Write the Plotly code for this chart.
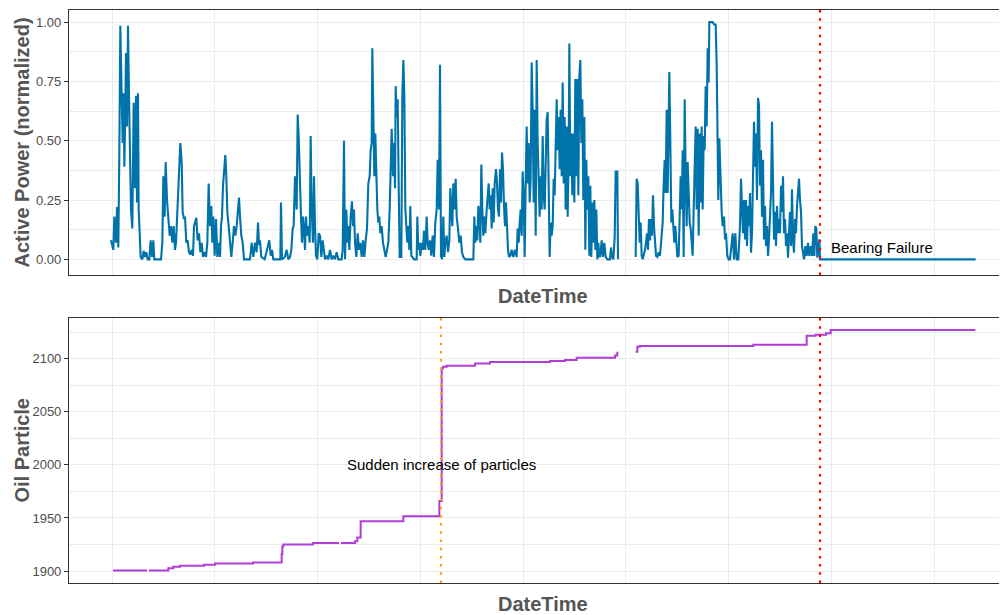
import math
import pandas as pd
import plotly.graph_objects as go

NAN = float("nan")

# ---------------- data (hours since start) ----------------
START = pd.Timestamp("2017-06-01 00:00")
FAILURE_H = 2127          # bearing failure
PARTICLE_JUMP_H = 990     # sudden increase of oil particles
END_H = 2594

power_part1 = [(0,.08),(4,.06),(7,.04),(10,.18),(13,.10),(15,.07),(18,.22),(22,.05),(25,.45),(28,.985),(32,.69),(35,.49),(38,.70),(40,.39),(43,.63),(45,.87),(48,.56),(51,.985),(54,.69),(57,.38),(60,.21),(64,.13),(68,.66),(72,.30),(75,.69),(78,.24),(81,.70),(83,.21),(86,.07),(89,.01),(94,0),(98,.035),(102,.01),(106,.03),(110,0),(115,0),(119,.08),(123,.01),(127,.08),(130,0),(140,0),(150,0),(154,.07),(157,.35),(161,.18),(164,.41),(168,.25),(172,.155),(176,.10),(180,.14),(184,.07),(188,.14),(192,.04),(195,.07),(200,.21),(204,.38),(208,.49),(212,.41),(215,.20),(219,.17),(222,.18),(226,.07),(230,.08),(234,.03),(238,.02),(242,.04),(246,.015),(249,.14),(252,.155),(256,.175),(260,.08),(264,.11),(268,.03),(272,.07),(276,.01),(280,.03)]

power_part2 = [(285,.01),(289,.07),(293,.32),(297,.14),(301,.225),(304,.07),(307,.18),(311,.015),(315,.17),(319,.01),(323,.07),(327,.01),(330,.14),(333,.18),(336,.31),(339,.39),(343,.44),(346,.35),(349,.20),(353,.14),(357,.07),(361,.01),(365,.07),(369,.14),(373,.10),(377,.14),(381,.21),(384,.26),(387,.18),(391,.10),(395,.07),(399,0),(409,0),(417,0),(422,.07),(427,.01),(432,.07),(437,.03),(441,.155),(444,.06),(447,.08),(451,.01),(461,0),(471,.05),(475,.08),(479,.015),(483,.04),(487,0),(497,0),(508,0),(510,.24),(513,0),(522,.01),(527,.04),(532,0),(537,.01),(541,.04),(545,.13),(548,.14),(552,.35),(557,.21),(560,.61),(563,.52)]

power_part3 = [(567,.28),(570,.18),(573,.07),(576,.18),(579,.13),(582,.04),(585,.18),(588,.10),(592,.14),(596,.07),(599,.52),(602,.21),(606,.07),(609,.35),(612,.14),(615,.015),(619,0),(623,.11),(627,.10),(631,.01),(635,.08),(639,.04),(642,0),(647,.015),(652,0),(657,.04),(662,0),(667,.015),(672,0),(677,.03),(682,0),(692,0),(695,.04),(699,.50),(702,0),(706,.21),(709,.07),(712,.14),(715,.04),(719,.18),(723,.245),(726,.14),(729,.21),(732,.07),(736,.01),(740,.11),(744,.04),(748,.07),(752,.01),(756,.08),(760,.01),(764,.08),(768,.13),(772,.32),(776,.35),(779,.46),(782,.49),(784,.89),(787,.46),(790,.35),(793,.53),(796,.28),(799,.21),(802,.155),(805,.18),(808,.11),(812,.14),(816,.07),(820,.03),(824,.01),(828,.04),(832,.07),(836,.21),(839,.46),(842,.55)]

power_part4 = [(846,.35),(849,.49),(852,.30),(854,.73),(857,.60),(860,.675),(863,.32),(866,.01),(871,.01),(874,.69),(877,.84),(880,.69),(883,.21),(886,.14),(889,.07),(892,.14),(895,.04),(898,.225),(901,.015),(904,.01),(909,0),(917,0),(919,.18),(922,.04),(925,.07),(928,.015),(932,.07),(936,.04),(939,.12),(943,.04),(947,.18),(950,.07),(953,.04),(957,.08),(961,.015),(965,.10),(969,.01),(973,.155),(977,.21),(980,.42),(984,.21),(987,.82),(990,.015),(993,0),(997,.18),(1000,.01),(1003,.07),(1007,.10),(1011,.03),(1015,.08),(1018,.30),(1021,.21),(1024,.14),(1027,.32),(1031,.21),(1034,.34),(1037,.18),(1041,.13),(1045,.07),(1049,.10),(1053,.03),(1057,.01),(1063,0),(1073,0),(1087,0),(1090,.18),(1093,.07),(1096,.14),(1099,.08),(1102,.225),(1105,.18),(1108,.07),(1111,.40),(1114,.21),(1117,.10),(1120,.18),(1123,.11),(1127,.21),(1130,.27),(1133,.32),(1136,.21),(1139,.27),(1142,.13),(1145,.30),(1148,.155),(1151,.32)]

power_part5 = [(1155,.38),(1158,.32),(1161,.21),(1164,.18),(1167,.38),(1170,.24),(1173,.45),(1176,.38),(1179,.225),(1182,.14),(1185,.24),(1188,.08),(1191,.04),(1194,.01),(1198,.015),(1202,.04),(1207,.01),(1212,.04),(1217,.01),(1220,.13),(1223,.07),(1226,.155),(1229,.21),(1232,.10),(1235,.37),(1238,.27),(1241,.01),(1244,.32),(1247,.56),(1250,.32),(1253,.49),(1256,.24),(1259,.34),(1262,.83),(1265,.63),(1268,.24),(1271,.63),(1274,.10),(1277,.84),(1280,.49),(1283,.27),(1286,.18),(1289,.35),(1292,.21),(1295,.52),(1298,.27),(1301,.21),(1304,.41),(1307,.59),(1310,.62),(1313,.35),(1316,.01),(1319,.155),(1322,.10),(1325,.14),(1328,.34),(1331,.27),(1334,.52),(1337,.675),(1340,.46),(1343,.60),(1346,.38),(1349,.63),(1352,.35),(1355,.745),(1358,.32),(1361,.60),(1364,.21),(1367,.56),(1370,.18),(1373,.44),(1375,.91),(1378,.35),(1381,.53),(1384,.27),(1387,.53),(1390,.24),(1393,.76),(1396,.35),(1399,.76),(1402,.27),(1405,.77),(1408,.84),(1411,.49),(1414,.675),(1417,.25),(1420,.60),(1423,.04),(1426,.42),(1429,.21),(1432,.35),(1435,.015),(1438,.31),(1441,.01),(1444,.24),(1447,.07),(1450,.25),(1453,.04),(1456,.21),(1459,0),(1462,.07),(1465,.01),(1468,.015),(1472,.08),(1476,.01),(1480,.07)]

power_part6 = [(1484,.01),(1489,0),(1497,0),(1500,.05),(1503,.01),(1507,0),(1511,.09),(1514,.37),(1519,.37),(1521,0),(1522,NAN),(1574,.01),(1577,.34),(1580,.32),(1583,.21),(1586,.07),(1589,.155),(1592,.015),(1595,0),(1598,.015),(1602,.04),(1605,.07),(1608,.11),(1611,.04),(1614,.17),(1617,.08),(1620,.17),(1623,.10),(1626,.27),(1629,.14),(1632,.08),(1635,.015),(1639,.01),(1643,.03),(1647,.015),(1651,.07),(1655,.155),(1658,.32),(1661,.42),(1664,.28),(1667,.63),(1670,.28),(1673,.63),(1675,.79),(1678,.49),(1681,.155),(1684,.21),(1687,.10),(1690,.07),(1693,.14),(1696,.04),(1699,.01),(1703,.015),(1706,.14),(1709,.35),(1712,.21),(1715,.46),(1718,.01),(1721,.675),(1724,.35),(1727,.14),(1730,.41),(1733,.21),(1736,.155),(1739,.13),(1742,.07),(1745,.015),(1748,.21),(1751,.46),(1754,.56),(1757,.21),(1760,.55),(1763,.10),(1766,.53),(1769,.24),(1772,.56),(1775,.21),(1778,.52),(1781,.46),(1784,.73),(1787,.56),(1790,.89),(1793,.745),(1795,1.0)]

power_part7 = [(1799,1.0),(1805,1.0),(1809,.99),(1814,.99),(1817,.82),(1819,.56),(1822,.25),(1825,.51),(1829,.31),(1832,.20),(1835,.14),(1839,.18),(1842,.084),(1845,.11),(1849,.014),(1853,0),(1857,0),(1862,.056),(1865,.11),(1869,0),(1873,.11),(1877,0),(1882,0),(1887,.14),(1890,.34),(1893,.225),(1896,.11),(1899,.25),(1902,.084),(1905,.25),(1908,.056),(1911,.225),(1914,.14),(1917,.28),(1920,.028),(1923,.11),(1926,.39),(1929,.58),(1932,.39),(1935,.53),(1938,.25),(1941,.68),(1944,.65),(1947,.31),(1950,.46),(1953,.18),(1956,.42),(1959,.084),(1962,.225),(1965,.056),(1968,.14),(1971,.014),(1974,.084),(1977,.20),(1980,.28),(1983,.58),(1986,.25),(1989,.084),(1992,.20),(1995,.056),(1998,.225),(2001,.11),(2004,.17),(2007,.11),(2010,.31),(2013,.20),(2016,.35),(2019,.11),(2022,.17),(2025,.056),(2028,.11),(2031,.007),(2034,.11),(2037,.20),(2040,.056),(2043,.295),(2046,.084),(2049,.028),(2052,.17),(2055,.11),(2058,.225),(2061,.28),(2064,.34),(2067,.25),(2070,.20),(2073,.056),(2076,.028),(2079,0),(2083,.056),(2087,.014),(2091,.07),(2095,.014),(2099,.056),(2103,.014),(2107,.11),(2110,.014),(2113,.14),(2116,.13),(2119,.007),(2122,.056),(2125,.084),(2127,0),(2594,0)]

oil_hours = [6, 108, 109, 114, 172, 187, 207, 279, 312, 426, 512, 514, 517, 606, 684, 685, 690, 732, 739, 749, 877, 985, 992, 996, 1007, 1092, 1137, 1317, 1362, 1397, 1512, 1519, 1520, 1574, 1579, 1587, 1927, 2087, 2114, 2145, 2159, 2593]
oil_values = [1900.5, 1900.5, NAN, 1900.5, 1902.5, 1904, 1905, 1906, 1907, 1908, 1916, 1923, 1925, 1926.4, 1926.4, NAN, 1926.4, 1928, 1931.5, 1947, 1951.6, 1966, 2091, 2092.5, 2093.4, 2095.6, 2096.9, 2097.8, 2098.8, 2101, 2103, 2106.6, NAN, 2106.6, 2111.3, 2112, 2113.2, 2121.7, 2122.6, 2124, 2127, 2127]

power_ticks = [0, 0.25, 0.5, 0.75, 1.0]
power_ticktext = ["0.00", "0.25", "0.50", "0.75", "1.00"]
oil_ticks = [1900, 1950, 2000, 2050, 2100]

# ---------------- build ----------------
def t(h):
    return START + pd.to_timedelta(h, unit="h")

power = power_part1 + power_part2 + power_part3 + power_part4 + power_part5 + power_part6 + power_part7
p_x = [t(h) for h, _ in power]
p_y = [None if (isinstance(v, float) and math.isnan(v)) else v for _, v in power]
o_x = [t(h) for h in oil_hours]
o_y = [None if math.isnan(v) else v for v in oil_values]

GRID = "#EBEBEB"
BORDER = "#333333"
TXT = "#4D4D4D"
FONT = "Liberation Sans, Arial, sans-serif"

x_range = [t(-126).isoformat(), t(2685).isoformat()]
grid_step_ms = 308.25 * 3600 * 1000

fig = go.Figure()
fig.add_trace(go.Scatter(x=p_x, y=p_y, mode="lines", line=dict(color="#0073AA", width=2.1),
                         xaxis="x", yaxis="y", connectgaps=False, showlegend=False))
fig.add_trace(go.Scatter(x=o_x, y=o_y, mode="lines", line=dict(color="#B23CD6", width=2, shape="hv"),
                         xaxis="x2", yaxis="y2", connectgaps=False, showlegend=False))

xcommon = dict(type="date", range=x_range, showticklabels=False, ticks="",
               tick0=t(3).isoformat(), dtick=grid_step_ms,
               showgrid=True, gridcolor=GRID, gridwidth=1, zeroline=False,
               showline=True, mirror=True, linecolor=BORDER, linewidth=1.1)
ycommon = dict(showgrid=True, gridcolor=GRID, gridwidth=1.1, zeroline=False,
               showline=True, mirror=True, linecolor=BORDER, linewidth=1.1,
               ticks="outside", ticklen=4, tickwidth=1, tickcolor=BORDER,
               tickfont=dict(family=FONT, size=13, color=TXT))

# the page body has an 8px margin, so the figure is offset by 8px on both axes
TOP = [(583 - 275) / 573, 1.0]
BOT = [0.0, (583 - 318) / 573]

fig.update_layout(
    width=999, height=607,
    margin=dict(l=61, r=1, t=2, b=32),
    paper_bgcolor="white", plot_bgcolor="white",
    font=dict(family=FONT, color=TXT),
    xaxis=dict(domain=[0, 1], anchor="y", **xcommon),
    xaxis2=dict(domain=[0, 1], anchor="y2", **xcommon),
    yaxis=dict(domain=TOP, anchor="x", range=[-0.066, 1.051], tickvals=power_ticks,
               ticktext=power_ticktext,
               minor=dict(tickvals=[0.125, 0.375, 0.625, 0.875], showgrid=True, gridcolor=GRID, gridwidth=0.6, ticks=""),
               **ycommon),
    yaxis2=dict(domain=BOT, anchor="x2", range=[1888.7, 2138.4], tickvals=oil_ticks,
                minor=dict(tickvals=[1925, 1975, 2025, 2075, 2125], showgrid=True, gridcolor=GRID, gridwidth=0.6, ticks=""),
                **ycommon),
)

dot = "2.5px,5.7px"
fig.add_shape(type="line", xref="x", yref="y domain", x0=t(FAILURE_H), x1=t(FAILURE_H), y0=0, y1=1,
              line=dict(color="red", width=2.2, dash=dot), layer="above")
fig.add_shape(type="line", xref="x2", yref="y2 domain", x0=t(FAILURE_H), x1=t(FAILURE_H), y0=0, y1=1,
              line=dict(color="red", width=2.2, dash=dot), layer="above")
fig.add_shape(type="line", xref="x2", yref="y2 domain", x0=t(PARTICLE_JUMP_H), x1=t(PARTICLE_JUMP_H), y0=0, y1=1,
              line=dict(color="orange", width=2.2, dash=dot), layer="above")

fig.add_annotation(x=t(2314), y=0.05, xref="x", yref="y", text="Bearing Failure", showarrow=False,
                   font=dict(family=FONT, size=15, color="black"))
fig.add_annotation(x=t(PARTICLE_JUMP_H), y=2000, xref="x2", yref="y2", text="Sudden increase of particles",
                   showarrow=False, font=dict(family=FONT, size=15, color="black"))

title_font = dict(family=FONT, size=20, color="#555555")
fig.add_annotation(x=0, xref="paper", xshift=-48, y=0.5, yref="y domain", text="<b>Active Power (normalized)</b>",
                   textangle=-90, showarrow=False, xanchor="center", yanchor="middle", font=title_font)
fig.add_annotation(x=0, xref="paper", xshift=-48, y=0.5, yref="y2 domain", text="<b>Oil Particle</b>",
                   textangle=-90, showarrow=False, xanchor="center", yanchor="middle", font=title_font)
fig.add_annotation(x=(543 - 69) / 937, xref="paper", y=(583 - 296) / 573, yref="paper", text="<b>DateTime</b>",
                   showarrow=False, xanchor="center", yanchor="middle", font=title_font)
fig.add_annotation(x=(543 - 69) / 937, xref="paper", y=(583 - 603.5) / 573, yref="paper", text="<b>DateTime</b>",
                   showarrow=False, xanchor="center", yanchor="middle", font=title_font)

fig.write_html("out.html")
